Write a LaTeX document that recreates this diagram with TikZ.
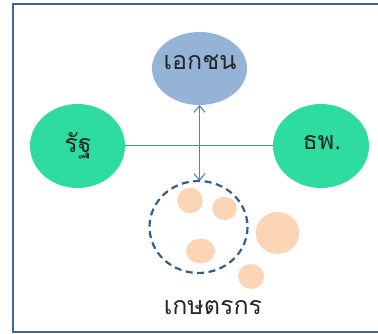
\documentclass[tikz,border=0pt]{standalone}
\usepackage{fontspec}
\newfontfamily\thaifont[Script=Thai]{Loma}
\usetikzlibrary{arrows.meta}
\definecolor{framec}{HTML}{41679A}
\definecolor{linec}{HTML}{4F81BD}
\definecolor{topc}{HTML}{95B3D7}
\definecolor{greenc}{HTML}{2EDCA0}
\definecolor{peach}{HTML}{FCD5B5}
\definecolor{dashc}{HTML}{385D8A}
\tikzset{
  lbl/.style={font=\thaifont\fontsize{25}{27}\selectfont, text=black!85, inner sep=0pt},
  blob/.style={fill=peach, draw=none},
  conn/.style={draw=linec, line width=1.1pt},
  barb/.style={Straight Barb[length=6.5pt,width=11pt]},
}
\begin{document}
\begin{tikzpicture}[x=1pt,y=-1pt]
\useasboundingbox (0,0) rectangle (378,334);
\begin{scope}
\clip (0,0) rectangle (378,334);
\draw[framec, line width=2.2pt] (13,4) rectangle (400,332);
\end{scope}
% ellipses
\fill[topc] (199.5,68.5) ellipse [x radius=47.5, y radius=36.5];
\fill[greenc] (77.5,146) ellipse [x radius=47.5, y radius=42];
\fill[greenc] (321,146) ellipse [x radius=48, y radius=42];
\coordinate (topB) at (199.5,105);
\coordinate (leftR) at (125,145.5);
\coordinate (rightL) at (273,145.5);
\coordinate (circT) at (199.5,181);
\node[lbl] (ekachon) at (200,62) {เอกชน};
\node[lbl] (rat) at (78,146) {รัฐ};
\node[lbl] (thp) at (322,142) {ธพ.};
% connectors
\draw[conn] (leftR) -- (rightL);
\draw[conn, {Straight Barb[length=6.5pt,width=11pt]}-{Straight Barb[length=6.5pt,width=11pt]}] (topB) -- (circT);
% blobs
\fill[blob] (190,200.5) circle [radius=12.8];
\fill[blob] (224.5,208.5) ellipse [x radius=12.2, y radius=11.7];
\fill[blob] (200.5,251) ellipse [x radius=14.5, y radius=12.3];
\fill[blob] (277.5,233) ellipse [x radius=21.7, y radius=21];
\fill[blob] (251,276.5) ellipse [x radius=13, y radius=12.5];
% dashed circle
\draw[dashc, line width=2.2pt, dash pattern=on 7pt off 4.5pt] (198.5,227) ellipse [x radius=49, y radius=46];
\node[lbl] (farmer) at (213,308) {เกษตรกร};
\end{tikzpicture}
\end{document}
